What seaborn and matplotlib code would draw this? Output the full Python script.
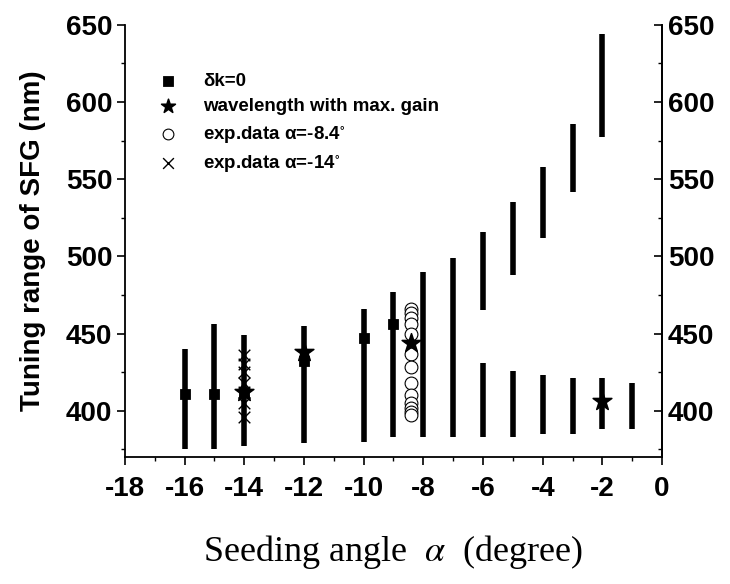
import numpy as np
import pandas as pd
import matplotlib
matplotlib.use("Agg")
import matplotlib.pyplot as plt
import seaborn as sns
from matplotlib.ticker import MultipleLocator

# tuning range segments (seeding angle, lower nm, upper nm)
seg_angle = [-16, -15, -14, -12, -10, -9, -8, -7, -6, -6, -5, -5, -4, -4, -3, -3, -2, -2, -1]
seg_lo = [375, 375, 377, 379, 380, 383, 383, 383, 465, 383, 488, 383, 512, 385, 542, 385, 577, 388, 388]
seg_hi = [440, 456, 449, 455, 466, 477, 490, 499, 516, 431, 535, 426, 558, 423, 586, 421, 644, 421, 418]

# delta k = 0
dk_angle = [-16, -15, -14, -12, -10, -9]
dk_nm = [411, 411, 412, 432, 447, 456]

# wavelength with max gain
gain_angle = [-14, -12, -8.4, -2]
gain_nm = [412, 438, 444, 406]

# experimental data
exp84_nm = [466, 463, 460, 456, 450, 437, 428, 418, 410, 405, 402, 399, 397]
exp14_nm = [436, 430, 425, 418, 412, 405, 396]

yticks = [400, 450, 500, 550, 600, 650]
xticks = [-18, -16, -14, -12, -10, -8, -6, -4, -2, 0]

sns.set_style("white")
plt.rcParams["font.family"] = ["Liberation Sans", "DejaVu Sans"]
plt.rcParams["mathtext.fontset"] = "stix"
plt.rcParams["axes.unicode_minus"] = False
plt.rcParams["text.color"] = "black"
plt.rcParams["axes.labelcolor"] = "black"
plt.rcParams["xtick.color"] = "black"
plt.rcParams["ytick.color"] = "black"

seg = pd.DataFrame({"angle": seg_angle, "lo": seg_lo, "hi": seg_hi})
dk = pd.DataFrame({"angle": dk_angle, "nm": dk_nm})
gain = pd.DataFrame({"angle": gain_angle, "nm": gain_nm})
e84 = pd.DataFrame({"angle": [-8.4] * len(exp84_nm), "nm": exp84_nm})
e14 = pd.DataFrame({"angle": [-14] * len(exp14_nm), "nm": exp14_nm})

fig = plt.figure(figsize=(7.3, 5.84), dpi=100)
ax = fig.add_axes([0.171, 0.2175, 0.736, 0.74])

ax.vlines(seg["angle"], seg["lo"], seg["hi"], color="black", lw=4.0, zorder=2)

sns.scatterplot(data=e84, x="angle", y="nm", ax=ax, marker="o", s=85,
                facecolor="white", edgecolor="black", linewidth=0.8,
                label="exp.data α=-8.4$^{\\circ}$", zorder=3)
sns.scatterplot(data=e14, x="angle", y="nm", ax=ax, marker="x", s=70,
                color="black", linewidth=1.0, label="exp.data α=-14$^{\\circ}$", zorder=3)
sns.scatterplot(data=dk, x="angle", y="nm", ax=ax, marker="s", s=55,
                color="black", edgecolor="black", label="δk=0", zorder=4)
sns.scatterplot(data=gain, x="angle", y="nm", ax=ax, marker="*", s=200,
                color="black", edgecolor="black", label="wavelength with max. gain", zorder=5)

ax.set_xlim(-18, 0)
ax.set_ylim(370, 650)
ax.set_xticks(xticks)
ax.set_yticks(yticks)
ax.xaxis.set_minor_locator(MultipleLocator(1))
ax.yaxis.set_minor_locator(MultipleLocator(25))
ax.tick_params(axis="both", which="major", direction="out", length=6, width=1.2,
               labelsize=20, pad=3, bottom=True, left=True)
ax.tick_params(axis="x", which="major", pad=8)
ax.tick_params(axis="both", which="minor", direction="out", length=3, width=1.0,
               bottom=True, left=True)
for lab in ax.get_xticklabels() + ax.get_yticklabels():
    lab.set_fontweight("bold")

ax.spines["top"].set_visible(False)
for s in ["left", "bottom", "right"]:
    ax.spines[s].set_linewidth(1.3)
    ax.spines[s].set_color("black")

ax2 = ax.twinx()
ax2.set_ylim(370, 650)
ax2.set_yticks(yticks)
ax2.yaxis.set_minor_locator(MultipleLocator(25))
ax2.tick_params(axis="y", which="major", direction="in", length=6, width=1.2,
                labelsize=20, pad=4, right=True)
ax2.tick_params(axis="y", which="minor", direction="in", length=3, width=1.0, right=True)
for lab in ax2.get_yticklabels():
    lab.set_fontweight("bold")
for s in ["top", "left", "bottom"]:
    ax2.spines[s].set_visible(False)
ax2.spines["right"].set_linewidth(1.3)
ax2.spines["right"].set_color("black")

ax.set_ylabel("Tuning range of SFG (nm)", fontsize=20, fontweight="bold", labelpad=14)
ax.set_xlabel("Seeding angle  $\\alpha$  (degree)", fontsize=26, fontweight="normal",
              family="Liberation Serif", labelpad=22)

handles, labels = ax.get_legend_handles_labels()
order = [labels.index("δk=0"), labels.index("wavelength with max. gain"),
         labels.index("exp.data α=-8.4$^{\\circ}$"), labels.index("exp.data α=-14$^{\\circ}$")]
leg = ax.legend([handles[i] for i in order], [labels[i] for i in order],
                loc="upper left", bbox_to_anchor=(0.045, 0.907), frameon=False,
                prop={"size": 13.5, "weight": "bold"}, handletextpad=1.3,
                labelspacing=0.45, handlelength=1.2, borderaxespad=0)
for h, sz in zip(leg.legend_handles, [45, 110, 60, 60]):
    h.set_sizes([sz])

fig.savefig("out.png", dpi=100)
